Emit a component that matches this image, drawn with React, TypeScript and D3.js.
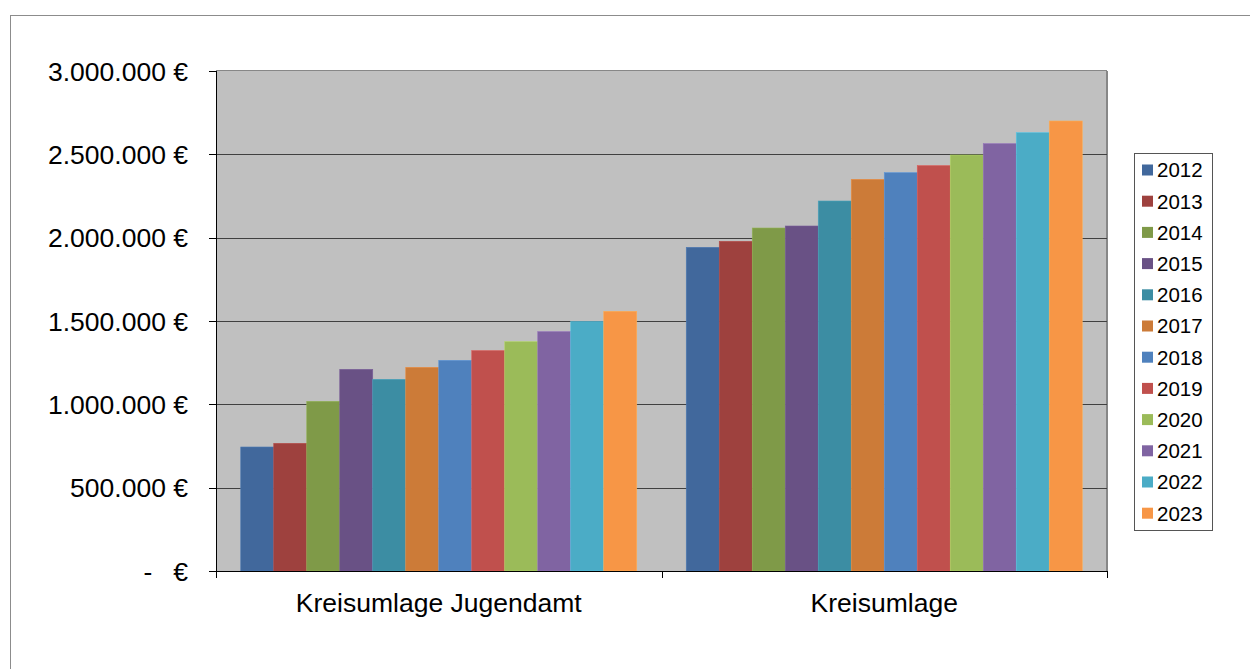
import React from "react";
import * as d3 from "d3";

// categories and years
const categories = ["Kreisumlage Jugendamt", "Kreisumlage"];
const years = ["2012", "2013", "2014", "2015", "2016", "2017", "2018", "2019", "2020", "2021", "2022", "2023"];

// values per year, one entry per category
const jugendamt = [744000, 766000, 1018000, 1210000, 1150000, 1222000, 1264000, 1322000, 1376000, 1436000, 1496000, 1558000];
const kreisumlage = [1942000, 1978000, 2058000, 2070000, 2220000, 2350000, 2390000, 2432000, 2496000, 2564000, 2630000, 2700000];

const yTicks = [0, 500000, 1000000, 1500000, 2000000, 2500000, 3000000];

const colors = [
  "#41689C", "#9E413E", "#7F9A48", "#695185", "#3C8DA3", "#CC7B38",
  "#4F81BD", "#C0504D", "#9BBB59", "#8064A2", "#4BACC6", "#F79646",
];

const W = 1250, H = 669;
const plot = { left: 216, right: 1107, top: 71, bottom: 571 };
const FONT = "'Liberation Sans', Arial, sans-serif";

export default function App() {
  const values = [jugendamt, kreisumlage];

  const x0 = d3.scaleBand().domain(categories).range([plot.left, plot.right]).paddingInner(0).paddingOuter(0);
  // Excel gap width 150% -> 0.75 bar on each side
  const bw = x0.bandwidth() / (years.length + 1.5);
  const y = d3.scaleLinear().domain([0, 3000000]).range([plot.bottom, plot.top]);

  const fmt = (v: number) => d3.format(",")(v).replace(/,/g, ".") + " €";

  return (
    <div style={{ position: "absolute", left: 0, top: 0 }}>
      <svg width={W} height={H} style={{ display: "block", background: "#fff" }}>
        {/* chart area border */}
        <rect x={10.5} y={15.5} width={1300} height={700} fill="#fff" stroke="#8c8c8c" strokeWidth={1} />

        {/* plot area */}
        <rect x={plot.left} y={plot.top} width={plot.right - plot.left} height={plot.bottom - plot.top} fill="#C0C0C0" />
        <line x1={plot.right} x2={plot.right} y1={plot.top} y2={plot.bottom} stroke="#878787" strokeWidth={2} />
        <line x1={plot.left} x2={plot.right} y1={plot.top - 0.5} y2={plot.top - 0.5} stroke="#878787" strokeWidth={1} />

        {/* gridlines */}
        {yTicks.slice(1, -1).map((t) => (
          <line key={t} x1={plot.left} x2={plot.right} y1={Math.round(y(t)) + 0.5} y2={Math.round(y(t)) + 0.5} stroke="#404040" strokeWidth={1} />
        ))}

        {/* bars */}
        {categories.map((c, ci) =>
          years.map((yr, i) => {
            const v = values[ci][i];
            const bx = (x0(c) as number) + bw * 0.75 + i * bw;
            return (
              <rect key={c + yr} x={bx} y={y(v)} width={bw} height={y(0) - y(v)}
                fill={colors[i]} stroke={d3.color(colors[i])!.brighter(0.4).formatHex()} strokeWidth={0.6} />
            );
          })
        )}

        {/* y axis */}
        <line x1={plot.left + 0.5} x2={plot.left + 0.5} y1={plot.top} y2={plot.bottom} stroke="#000" />
        {yTicks.map((t) => (
          <g key={t}>
            <line x1={plot.left - 7} x2={plot.left} y1={Math.round(y(t)) + 0.5} y2={Math.round(y(t)) + 0.5} stroke="#000" />
            {t === 0 ? (
              <>
                <text x={148} y={y(t)} dy="0.36em" textAnchor="middle" fontSize={26.5} fontFamily={FONT}>-</text>
                <text x={188} y={y(t)} dy="0.36em" textAnchor="end" fontSize={26.5} fontFamily={FONT}>€</text>
              </>
            ) : (
              <text x={188} y={y(t)} dy="0.36em" textAnchor="end" fontSize={26.5} fontFamily={FONT}>{fmt(t)}</text>
            )}
          </g>
        ))}

        {/* x axis */}
        <line x1={plot.left} x2={plot.right} y1={plot.bottom + 0.5} y2={plot.bottom + 0.5} stroke="#000" />
        {[plot.left, plot.left + x0.bandwidth(), plot.right].map((tx, i) => (
          <line key={i} x1={Math.round(tx) + 0.5} x2={Math.round(tx) + 0.5} y1={plot.bottom} y2={plot.bottom + 7} stroke="#000" />
        ))}
        {categories.map((c) => (
          <text key={c} x={(x0(c) as number) + x0.bandwidth() / 2} y={612} textAnchor="middle" fontSize={26.5} fontFamily={FONT}>{c}</text>
        ))}

        {/* legend */}
        <rect x={1134.5} y={153.5} width={78} height={377} fill="#fff" stroke="#555" strokeWidth={1} />
        {years.map((yr, i) => {
          const cy = 170 + i * 31.2;
          return (
            <g key={yr}>
              <rect x={1142} y={cy - 5.5} width={11} height={11} fill={colors[i]} />
              <text x={1157} y={cy} dy="0.36em" fontSize={20.5} fontFamily={FONT}>{yr}</text>
            </g>
          );
        })}
      </svg>
    </div>
  );
}
